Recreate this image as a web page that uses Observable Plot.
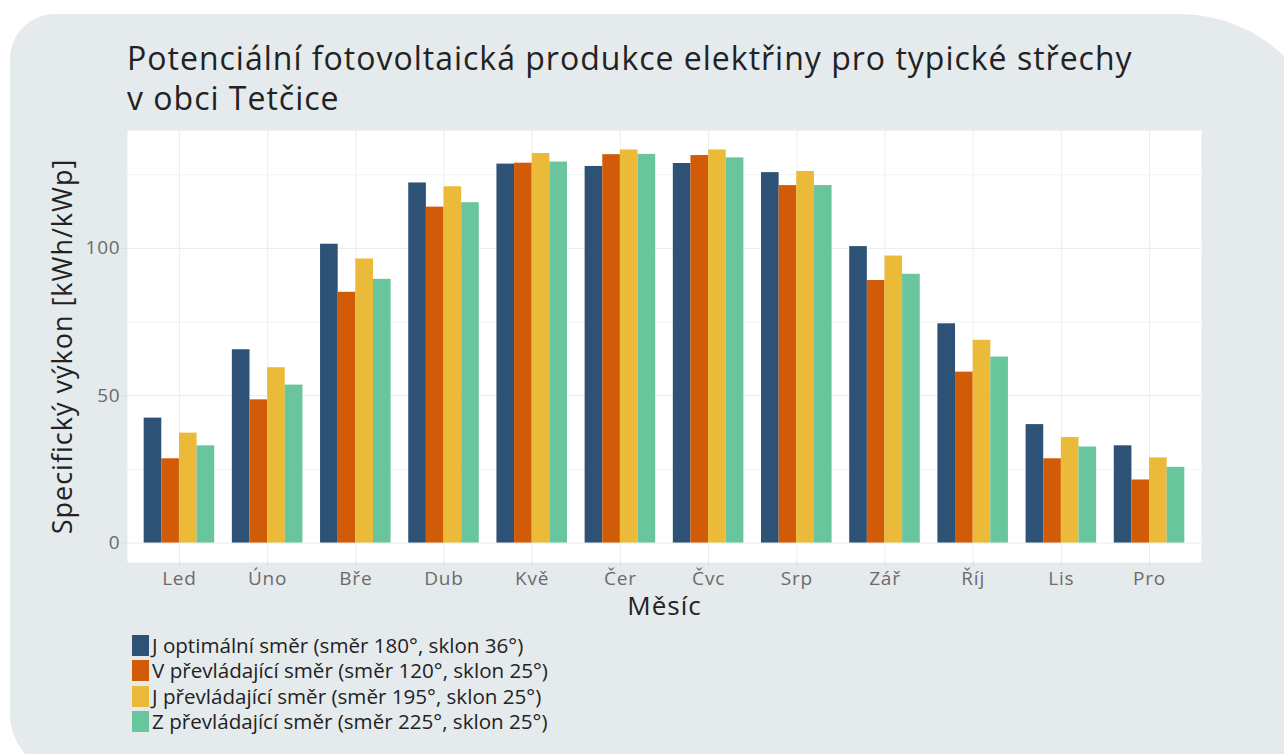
<!DOCTYPE html>
<html lang="cs">
<head>
<meta charset="utf-8">
<script src="https://cdn.jsdelivr.net/npm/d3@7"></script>
<script src="https://cdn.jsdelivr.net/npm/@observablehq/plot@0.6"></script>
<style>
  html, body { margin: 0; padding: 0; background: #ffffff; }
  body { width: 1284px; height: 754px; position: relative; overflow: hidden; font-family: "Open Sans", Lato, sans-serif; }
  #panel {
    position: absolute; left: 10px; top: 14px; width: 1320px; height: 760px;
    background: #e5eaed;
    border-radius: 45px 150px 0 60px;
  }
  #title {
    position: absolute; left: 127px; top: 38px;
    font-size: 32px; letter-spacing: 1px; line-height: 40px; color: #222; font-weight: 400;
  }
  #chart { position: absolute; left: 0; top: 0; }
  #chart g[aria-label$="tick label"] text { letter-spacing: 0.8px; }
  #chart g[aria-label="y-axis label"] text,
  #chart g[aria-label="x-axis label"] text { letter-spacing: 1px; }
  #legend { position: absolute; left: 132px; top: 633px; }
  .row { display: flex; align-items: center; height: 25.3px; }
  .sw { width: 17px; height: 21px; margin-right: 3px; flex: none; }
  .lab { font-size: 20.6px; color: #222; white-space: nowrap; line-height: 25px; }
</style>
</head>
<body>
<div id="panel"></div>
<div id="title">Potenciální fotovoltaická produkce elektřiny pro typické střechy<br>v obci Tetčice</div>
<div id="chart"></div>
<div id="legend"></div>
<script>
// Months on the x axis
const months = ["Led", "Úno", "Bře", "Dub", "Kvě", "Čer", "Čvc", "Srp", "Zář", "Říj", "Lis", "Pro"];

// Roof orientations (legend entries)
const seriesNames = [
  "J optimální směr (směr 180°, sklon 36°)",
  "V převládající směr (směr 120°, sklon 25°)",
  "J převládající směr (směr 195°, sklon 25°)",
  "Z převládající směr (směr 225°, sklon 25°)"
];
const seriesColors = ["#2d5276", "#d15b06", "#ecba39", "#69c59c"];

// Specific yield per month [kWh/kWp]
const jOptimal = [42.4, 65.6, 101.4, 122.2, 128.6, 127.8, 128.8, 125.7, 100.6, 74.4, 40.2, 33.0];
const vPrevailing = [28.6, 48.6, 85.1, 114.0, 128.9, 131.8, 131.5, 121.3, 89.1, 58.0, 28.6, 21.4];
const jPrevailing = [37.3, 59.5, 96.4, 120.9, 132.2, 133.4, 133.4, 126.1, 97.4, 68.8, 35.8, 28.9];
const zPrevailing = [33.0, 53.6, 89.5, 115.5, 129.3, 131.9, 130.7, 121.3, 91.2, 63.1, 32.6, 25.7];

const yTicks = [0, 50, 100];
const yMinorTicks = [25, 75, 125];

// Grouped bars: each month occupies one unit on x, the four series share 80 % of it
const groupWidth = 0.8;
const seriesValues = [jOptimal, vPrevailing, jPrevailing, zPrevailing];
const barWidth = groupWidth / seriesNames.length;
const rows = months.flatMap((m, i) =>
  seriesNames.map((s, k) => ({
    month: i,
    series: s,
    x1: i - groupWidth / 2 + k * barWidth,
    x2: i - groupWidth / 2 + (k + 1) * barWidth,
    value: seriesValues[k][i]
  }))
);
const monthIndex = months.map((m, i) => i);

const font = "'Open Sans', Lato, sans-serif";
const chart = Plot.plot({
  width: 1284,
  height: 640,
  marginLeft: 127,
  marginRight: 83,
  marginTop: 130,
  marginBottom: 78,
  style: {fontFamily: font, background: "transparent"},
  x: {domain: [-0.589, 11.589], label: null},
  y: {domain: [-6.6, 140], label: null},
  color: {domain: seriesNames, range: seriesColors},
  marks: [
    Plot.frame({fill: "white", stroke: null}),
    Plot.ruleY(yMinorTicks, {stroke: "#f2f3f5", strokeWidth: 1}),
    Plot.ruleY(yTicks, {stroke: "#e8eaed", strokeWidth: 1}),
    Plot.ruleX(monthIndex, {stroke: "#ebedf0", strokeWidth: 1}),
    Plot.rectY(rows, {x1: "x1", x2: "x2", y1: 0, y2: "value", fill: "series"}),
    Plot.axisY(yTicks, {
      tickSize: 5, tickPadding: 2, fontSize: 19, fill: "#6b6b6b", stroke: "#d8dadd", label: null
    }),
    Plot.axisY([], {
      tickSize: 0, fontSize: 27, fill: "#222",
      label: "Specifický výkon [kWh/kWp]", labelAnchor: "center", labelOffset: 75, labelArrow: "none"
    }),
    Plot.axisX(monthIndex, {
      tickSize: 4, tickPadding: 5, fontSize: 19, fill: "#6b6b6b", stroke: "#d8dadd",
      tickFormat: (i) => months[i], label: null
    }),
    Plot.axisX([], {
      tickSize: 0, fontSize: 26, fill: "#222",
      label: "Měsíc", labelAnchor: "center", labelOffset: 52, labelArrow: "none"
    })
  ]
});
document.getElementById("chart").appendChild(chart);

// Legend below the chart
const legend = document.getElementById("legend");
seriesNames.forEach((name, k) => {
  const row = document.createElement("div");
  row.className = "row";
  const sw = document.createElement("div");
  sw.className = "sw";
  sw.style.background = seriesColors[k];
  const lab = document.createElement("div");
  lab.className = "lab";
  lab.textContent = name;
  row.appendChild(sw);
  row.appendChild(lab);
  legend.appendChild(row);
});
</script>
</body>
</html>
